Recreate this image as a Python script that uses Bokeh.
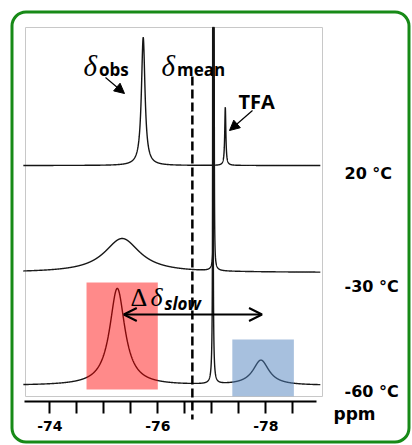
import numpy as np
from bokeh.plotting import figure
from bokeh.models import (Range1d, LinearAxis, FixedTicker, Arrow, NormalHead, OpenHead,
                          CustomJSTickFormatter)
from bokeh.core.properties import value
from bokeh.embed import file_html
from bokeh.resources import INLINE

# ---------------- data ----------------
temperatures = ["20 °C", "-30 °C", "-60 °C"]
spectrum_offsets = [220, 113, 0]            # stacking offset of each trace (a.u.)

# peaks of each spectrum: centre (ppm), height (a.u.), FWHM (ppm)
peaks_20 = {"centre": [-75.73, -77.25], "height": [128, 58], "fwhm": [0.08, 0.025]}
peaks_m30 = {"centre": [-75.34, -77.04, -77.04], "height": [34, 4, 900], "fwhm": [0.80, 0.10, 0.006]}
peaks_m60 = {"centre": [-75.25, -77.91, -77.02, -77.02], "height": [97, 25, 40, 900],
             "fwhm": [0.34, 0.36, 0.04, 0.006]}
spectra_peaks = [peaks_20, peaks_m30, peaks_m60]

delta_mean = -76.64                 # dashed line
slow_ends = [-75.37, -77.93]        # Δδ_slow double arrow
red_band = [-74.68, -76.00]         # highlighted slow-exchange peaks
blue_band = [-77.38, -78.52]
tick_major = [-74, -76, -78]
tick_minor = [-74.5, -75, -75.5, -76.5, -77, -77.5, -78.5]
ppm_window = [-73.51, -79.01]
axis_bounds = [-78.94, -73.53]

# ---------------- layout helpers (pixel -> data) ----------------
PX0, PPM0, PX_PER_PPM = 49.3, -74.0, 54.0
BASE_PX = 385.0


def X(sx):
    return PPM0 - (sx - PX0) / PX_PER_PPM


def Y(sy):
    return BASE_PX - sy


W, H = 412, 445
p = figure(width=W, height=H, x_range=Range1d(X(0), X(W)), y_range=Range1d(Y(H), Y(0)),
           x_axis_type=None, y_axis_type=None, output_backend="svg", toolbar_location=None,
           min_border=0, outline_line_color=None, background_fill_color="white",
           border_fill_color="white")

# green rounded frame
p.quad(left=X(11.5), right=X(408.5), top=Y(11.5), bottom=Y(441.5), fill_color=None,
       line_color="#178a17", line_width=3, border_radius=14)
# light grey plot box
p.quad(left=X(25), right=X(322), top=Y(27), bottom=Y(396), fill_color=None,
       line_color="#c8c8c8", line_width=1)

# spectra
x = np.linspace(ppm_window[0], ppm_window[1], 6000)
x = np.sort(np.union1d(x, np.concatenate([pk["centre"] for pk in spectra_peaks])))[::-1]
y_top = Y(27)
for off, pk in zip(spectrum_offsets, spectra_peaks):
    y = np.zeros_like(x)
    for c, h, w in zip(pk["centre"], pk["height"], pk["fwhm"]):
        y += h / (1.0 + ((x - c) / (w / 2.0)) ** 2)
    y = np.minimum(off + y, y_top)
    p.line(x, y, line_color="#151515", line_width=1.4)

# dashed mean line
p.line([delta_mean, delta_mean], [Y(76), Y(419)], line_color="black", line_width=2.5,
       line_dash="9 4")

# highlighted regions (semi-transparent, over the trace)
p.quad(left=red_band[0], right=red_band[1], top=Y(282), bottom=Y(389),
       fill_color="#ff0000", fill_alpha=0.46, line_color=None)
p.quad(left=blue_band[0], right=blue_band[1], top=Y(339), bottom=Y(395.7),
       fill_color="#4f81bd", fill_alpha=0.5, line_color=None)

# axis
ax = LinearAxis(fixed_location=Y(401), bounds=(axis_bounds[0], axis_bounds[1]),
                ticker=FixedTicker(ticks=tick_major, minor_ticks=tick_minor),
                formatter=CustomJSTickFormatter(code="return tick.toFixed(0)"))
ax.axis_line_width = 2
ax.axis_line_color = "black"
ax.major_tick_in = 0
ax.major_tick_out = 12
ax.minor_tick_in = 0
ax.minor_tick_out = 12
ax.major_tick_line_width = 2
ax.minor_tick_line_width = 2
ax.major_tick_line_color = "black"
ax.minor_tick_line_color = "black"
ax.major_label_text_font = "DejaVu Sans"
ax.major_label_text_font_style = "bold"
ax.major_label_text_font_size = "14px"
ax.major_label_text_color = "black"
ax.major_label_standoff = 7
p.add_layout(ax, "below")

SANS = value("Open Sans")
WIDE = value("DejaVu Sans")
SERIF = value("Liberation Serif")

# temperature labels
p.text(x=[X(344)] * 3, y=[Y(172.8), Y(285.8), Y(390.8)], text=temperatures,
       text_font=WIDE, text_font_style="bold", text_font_size="16px",
       text_color="black", text_align="left", text_baseline="alphabetic")
p.text(x=[X(333)], y=[Y(413)], text=["ppm"], text_font=WIDE, text_font_style="bold",
       text_font_size="17px", text_color="black", text_align="left", text_baseline="alphabetic")

# delta labels
p.text(x=[X(83), X(161)], y=[Y(65), Y(65)], text=["δ", "δ"], text_font=SERIF,
       text_font_style="italic", text_font_size="29px", text_color="black",
       text_align="left", text_baseline="alphabetic")
p.text(x=[X(98.5), X(176.5)], y=[Y(69), Y(69)], text=["obs", "mean"], text_font=SANS,
       text_font_style="bold", text_font_size="17px", text_color="black",
       text_align="left", text_baseline="alphabetic")
p.text(x=[X(238)], y=[Y(101)], text=["TFA"], text_font=SANS, text_font_style="bold",
       text_font_size="20px", text_color="black", text_align="left", text_baseline="alphabetic")
p.text(x=[X(130)], y=[Y(297)], text=["Δ"], text_font=SERIF, text_font_size="26px",
       text_color="black", text_align="left", text_baseline="alphabetic")
p.text(x=[X(150)], y=[Y(297)], text=["δ"], text_font=SERIF, text_font_style="italic",
       text_font_size="26px", text_color="black", text_align="left", text_baseline="alphabetic")
p.text(x=[X(164)], y=[Y(303)], text=["slow"], text_font=SANS, text_font_style="bold italic",
       text_font_size="17px", text_color="black", text_align="left", text_baseline="alphabetic")

# arrows
p.add_layout(Arrow(end=NormalHead(size=10, fill_color="black", line_color="black"),
                   x_start=X(105), y_start=Y(77), x_end=X(124), y_end=Y(93),
                   line_width=1.2, line_color="black"))
p.add_layout(Arrow(end=NormalHead(size=10, fill_color="black", line_color="black"),
                   x_start=X(252), y_start=Y(110), x_end=X(229), y_end=Y(130),
                   line_width=1.2, line_color="black"))
p.add_layout(Arrow(start=OpenHead(size=13, line_width=2, line_color="black"),
                   end=OpenHead(size=13, line_width=2, line_color="black"),
                   x_start=slow_ends[0], y_start=Y(314), x_end=slow_ends[1], y_end=Y(314),
                   line_width=2, line_color="black"))

open("out.html", "w").write(file_html(p, INLINE))
